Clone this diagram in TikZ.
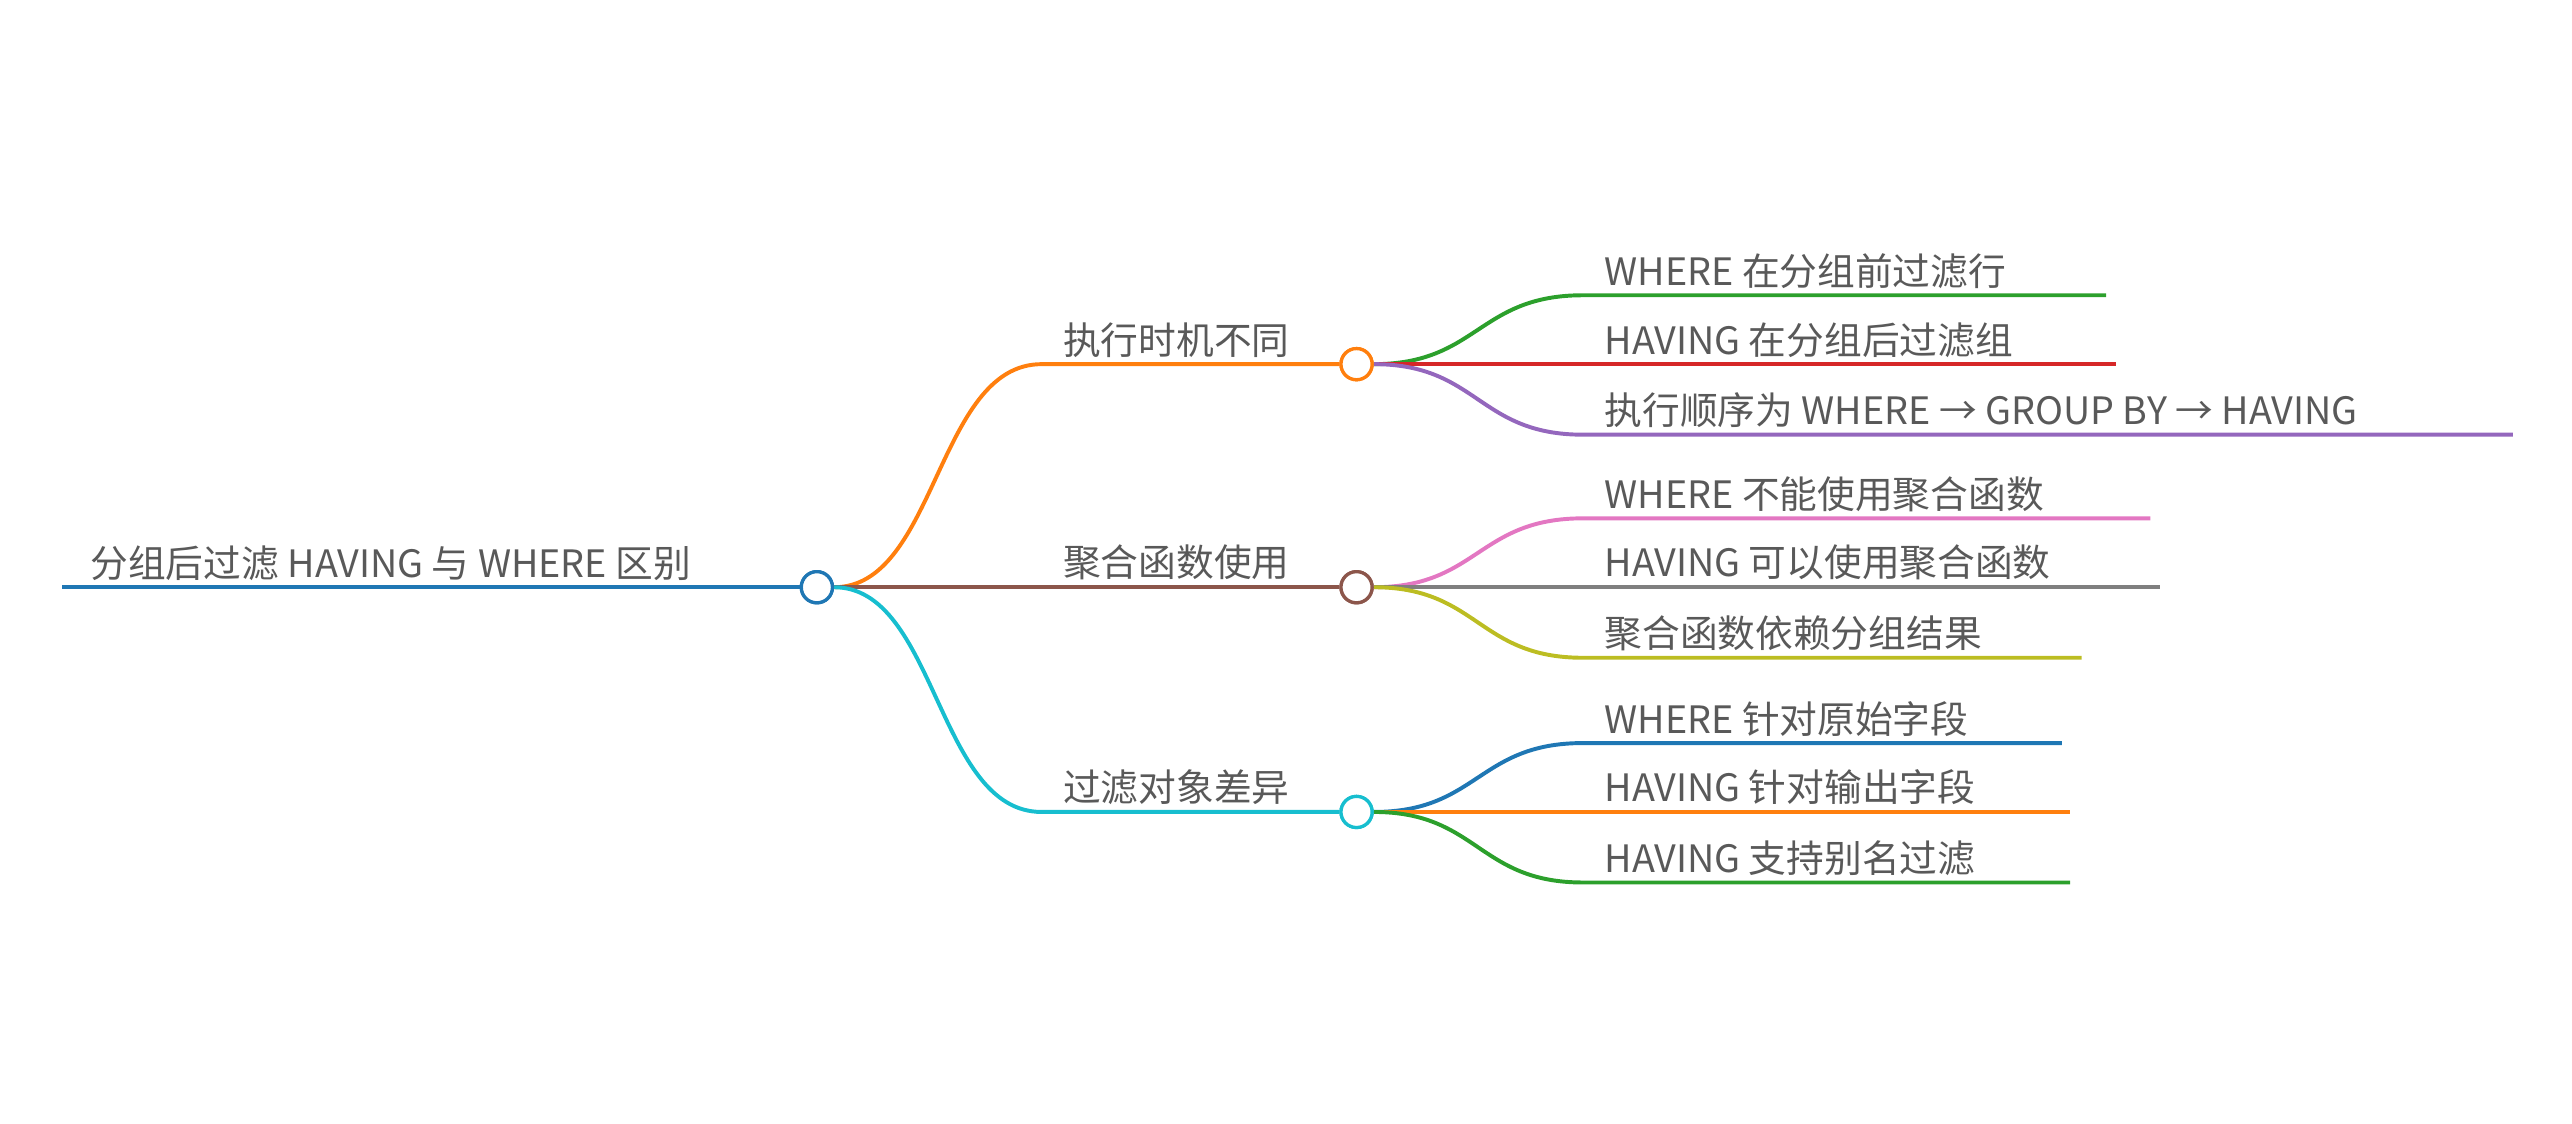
\documentclass[tikz,border=0pt]{standalone}
\usepackage{fontspec}
\newfontfamily\cjk{Noto Sans CJK SC}
\begin{document}
\begin{tikzpicture}[x=1pt,y=-1pt,
  lbl/.style={anchor=south west,inner sep=0pt,font=\cjk\fontsize{23}{23}\selectfont,text=black!65},
  dot/.style={circle,draw,line width=2pt,fill=white,minimum size=19pt,inner sep=0pt},
  br/.style={line width=2.4pt}]
\useasboundingbox (0,0) rectangle (1568,685);
\definecolor{cB}{HTML}{1F77B4}\definecolor{cO}{HTML}{FF7F0E}\definecolor{cG}{HTML}{2CA02C}
\definecolor{cR}{HTML}{D62728}\definecolor{cP}{HTML}{9467BD}\definecolor{cN}{HTML}{8C564B}
\definecolor{cK}{HTML}{E377C2}\definecolor{cY}{HTML}{7F7F7F}\definecolor{cL}{HTML}{BCBD22}
\definecolor{cC}{HTML}{17BECF}
% root
\coordinate (r0) at (38,358);
\node[dot,draw=cB] (root) at (498,358) {};
\draw[br,cB] (r0) -- (root.west);
\node[lbl] (rt) at (55,354) {分组后过滤 HAVING 与 WHERE 区别};
% branches
\newcommand\branch[5]{% name, y, color, label, dummy
  \coordinate (#1s) at (635,#2);
  \node[dot,draw=#3] (#1) at (827,#2) {};
  \draw[br,#3] (root.east) .. controls (571,358) and (571,#2) .. (#1s) -- (#1.west);
  \node[lbl] (#1t) at (648,#2-4) {#4};
}
\newcommand\leaf[5]{% parent, name, y, end, color, label
  \coordinate (#2s) at (965,#3);
  \coordinate (#2e) at (#4,#3);
  \draw[br,#5] (#1.east) .. controls (901,\py) and (901,#3) .. (#2s) -- (#2e);
}
\branch{a}{222}{cO}{执行时机不同}{}
\branch{b}{358}{cN}{聚合函数使用}{}
\branch{c}{495}{cC}{过滤对象差异}{}
\def\py{222}
\leaf{a}{a1}{180}{1284}{cG}\node[lbl] (a1t) at (978,176) {WHERE 在分组前过滤行};
\leaf{a}{a2}{222}{1290}{cR}\node[lbl] (a2t) at (978,218) {HAVING 在分组后过滤组};
\leaf{a}{a3}{265}{1532}{cP}\node[lbl] (a3t) at (978,261) {执行顺序为 WHERE → GROUP BY → HAVING};
\def\py{358}
\leaf{b}{b1}{316}{1311}{cK}\node[lbl] (b1t) at (978,312) {WHERE 不能使用聚合函数};
\leaf{b}{b2}{358}{1317}{cY}\node[lbl] (b2t) at (978,354) {HAVING 可以使用聚合函数};
\leaf{b}{b3}{401}{1269}{cL}\node[lbl] (b3t) at (978,397) {聚合函数依赖分组结果};
\def\py{495}
\leaf{c}{c1}{453}{1257}{cB}\node[lbl] (c1t) at (978,449) {WHERE 针对原始字段};
\leaf{c}{c2}{495}{1262}{cO}\node[lbl] (c2t) at (978,491) {HAVING 针对输出字段};
\leaf{c}{c3}{538}{1262}{cG}\node[lbl] (c3t) at (978,534) {HAVING 支持别名过滤};
% redraw dots on top
\foreach \n/\c in {root/cB,a/cO,b/cN,c/cC}{\node[dot,draw=\c] at (\n) {};}
\end{tikzpicture}
\end{document}
